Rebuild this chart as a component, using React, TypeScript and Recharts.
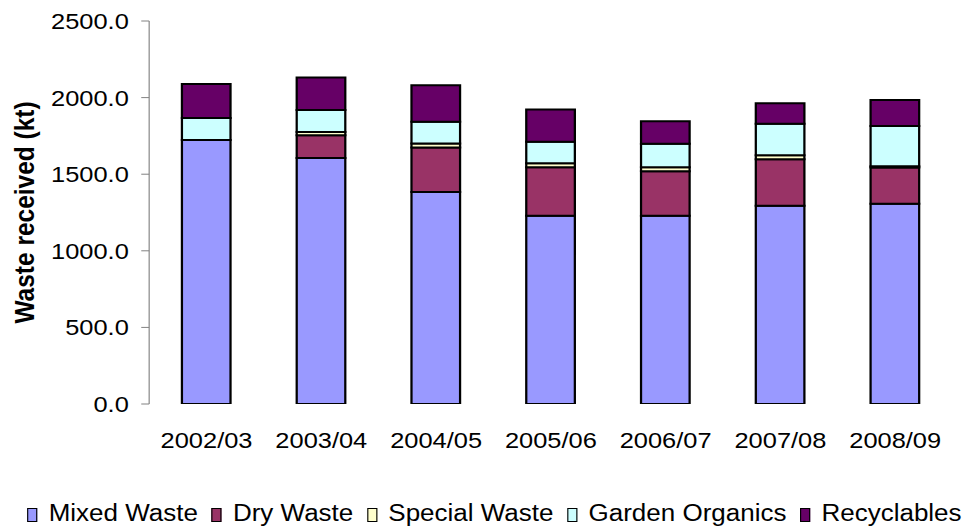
import React from 'react';
import { BarChart, Bar, XAxis, YAxis, Legend } from 'recharts';

const years = ['2002/03', '2003/04', '2004/05', '2005/06', '2006/07', '2007/08', '2008/09'];
const mixedWaste = [1723, 1606, 1384, 1229, 1229, 1294, 1307];
const dryWaste = [0, 148, 291, 316, 290, 303, 237];
const specialWaste = [0, 21, 26, 26, 26, 26, 8];
const gardenOrganics = [144, 144, 142, 141, 154, 207, 263];
const recyclables = [222, 213, 237, 211, 146, 133, 169];
const yTicks = [0, 500, 1000, 1500, 2000, 2500];
const boundaryTicks = [0, 1, 2, 3, 4, 5, 6, 7];

const series = [
  { key: 'mixed', name: 'Mixed Waste', color: '#9999FF' },
  { key: 'dry', name: 'Dry Waste', color: '#993366' },
  { key: 'special', name: 'Special Waste', color: '#FFFFCC' },
  { key: 'garden', name: 'Garden Organics', color: '#CCFFFF' },
  { key: 'recyc', name: 'Recyclables', color: '#660066' },
];

const data = years.map((year, i) => ({
  year,
  mixed: mixedWaste[i],
  dry: dryWaste[i],
  special: specialWaste[i],
  garden: gardenOrganics[i],
  recyc: recyclables[i],
}));

const FONT = '"Liberation Sans", Arial, sans-serif';
const AXIS = '#808080';

const LegendContent = () => (
  <div
    style={{
      height: 30,
      display: 'flex',
      justifyContent: 'center',
      alignItems: 'center',
      fontFamily: FONT,
      fontSize: 23,
      color: '#000',
      whiteSpace: 'nowrap',
      paddingLeft: 20,
    }}
  >
    {series.map((s, i) => (
      <span key={s.key} style={{ display: 'inline-flex', alignItems: 'center', marginLeft: i === 0 ? 0 : 12 }}>
        <span
          style={{
            display: 'inline-block',
            width: 7,
            height: 12,
            background: s.color,
            border: '1px solid #000',
            marginRight: 10,
            marginTop: 3,
          }}
        />
        <span>{s.name}</span>
      </span>
    ))}
  </div>
);

const YLabel = (props: any) => {
  const vb = props.viewBox || {};
  const cx = 22;
  const cy = (vb.y || 0) + (vb.height || 0) / 2;
  return (
    <text
      x={cx}
      y={cy}
      transform={`rotate(-90, ${cx}, ${cy})`}
      textAnchor="middle"
      dominantBaseline="central"
      fontFamily={FONT}
      fontSize={24.5}
      fontWeight="bold"
      fill="#000"
    >
      Waste received (kt)
    </text>
  );
};

export default function App() {
  return (
    <div style={{ position: 'absolute', left: 0, top: 0, width: 966, height: 528, overflow: 'hidden', background: '#fff' }}>
      <div style={{ width: 855, height: 528, transform: 'scaleX(1.13)', transformOrigin: '0 0', fontFamily: FONT }}>
        <BarChart width={855} height={528} data={data} margin={{ top: 21, right: 12, left: 0, bottom: 0 }} barSize={43}>
          <XAxis
            xAxisId="grid"
            type="number"
            domain={[0, 7]}
            ticks={boundaryTicks}
            allowDataOverflow
            tick={false}
            tickSize={8}
            height={0}
            axisLine={{ stroke: AXIS, strokeWidth: 1 }}
            tickLine={{ stroke: AXIS, strokeWidth: 1 }}
          />
          <XAxis
            xAxisId="cat"
            dataKey="year"
            height={94}
            axisLine={false}
            tickLine={false}
            tickSize={0}
            tickMargin={28}
            interval={0}
            tick={{ fill: '#000', fontSize: 22.5, fontFamily: FONT }}
          />
          <YAxis
            width={132}
            domain={[0, 2500]}
            ticks={yTicks}
            allowDataOverflow
            tickFormatter={(v: number) => v.toFixed(1)}
            tickSize={7}
            tickMargin={11}
            axisLine={{ stroke: AXIS, strokeWidth: 1 }}
            tickLine={{ stroke: AXIS, strokeWidth: 1 }}
            tick={{ fill: '#000', fontSize: 22.5, fontFamily: FONT }}
            label={<YLabel />}
          />
          <Legend
            verticalAlign="bottom"
            align="center"
            content={<LegendContent />}
            wrapperStyle={{ margin: 0, padding: 0, left: 0, width: 855 }}
          />
          {series.map((s) => (
            <Bar
              key={s.key}
              xAxisId="cat"
              dataKey={s.key}
              name={s.name}
              stackId="a"
              fill={s.color}
              stroke="#000"
              strokeWidth={2}
              isAnimationActive={false}
            />
          ))}
        </BarChart>
      </div>
    </div>
  );
}
